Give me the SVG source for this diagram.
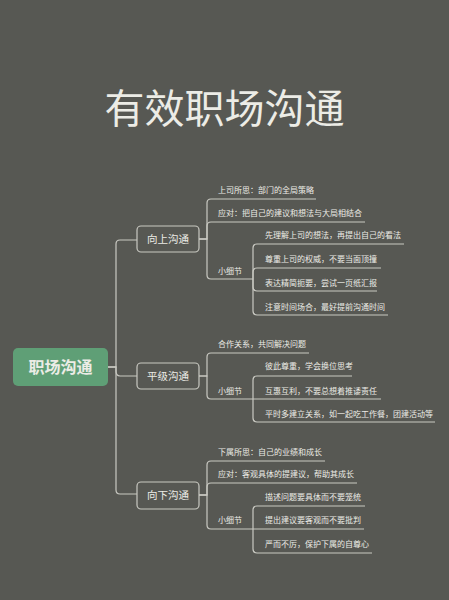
<svg xmlns="http://www.w3.org/2000/svg" width="449" height="600" viewBox="0 0 449 600">
<style>
text{font-family:"Noto Sans CJK SC","Noto Sans",sans-serif;fill:#ecece6}
.t{font-size:8px}
.n{font-size:10.5px;text-anchor:middle}
.c{fill:none;stroke:#c9c9c2;stroke-width:1.2}
.box{fill:#575853;stroke:#c9c9c2;stroke-width:1.2}
</style>
<rect width="449" height="600" fill="#575853"/>
<text x="224.5" y="123" font-size="40" text-anchor="middle" id="title">有效职场沟通</text>
<g id="connectors" class="c">
<path d="M108,367 H116 V244 Q116,240 120,240 H137"/>
<path d="M108,367 H116 V371 Q116,376 120,376 H137"/>
<path d="M108,367 H116 V490 Q116,494 120,494 H137"/>
<path d="M199,239 H207 V203 Q207,199 211,199 H316"/>
<path d="M199,239 H207 V226 Q207,222 211,222 H365"/>
<path d="M199,239 H207 V275 Q207,279 211,279 H253"/>
<path d="M253,279 V248 Q253,244 257,244 H404"/>
<path d="M253,279 V272 Q253,268 257,268 H381"/>
<path d="M253,279 V287 Q253,291 257,291 H377"/>
<path d="M253,279 V311 Q253,315 257,315 H388"/>
<path d="M199,376 H207 V357 Q207,353 211,353 H309"/>
<path d="M199,376 H207 V395 Q207,399 211,399 H253"/>
<path d="M253,399 V380 Q253,376 257,376 H352"/>
<path d="M253,399 H381"/>
<path d="M253,399 V418 Q253,422 257,422 H435"/>
<path d="M199,495 H207 V465 Q207,461 211,461 H325"/>
<path d="M199,495 H207 V487 Q207,483 211,483 H357"/>
<path d="M199,495 H207 V525 Q207,529 211,529 H253"/>
<path d="M253,529 V510 Q253,506 257,506 H365"/>
<path d="M253,529 H364"/>
<path d="M253,529 V549 Q253,553 257,553 H372"/>
</g>
<g id="root"><rect x="13" y="348" width="95" height="38" rx="5" fill="#5f9f76"/><text x="60.5" y="373" font-size="16" font-weight="bold" text-anchor="middle">职场沟通</text></g>
<g id="up"><rect class="box" x="137" y="226" width="62" height="26" rx="4"/><text class="n" x="168" y="243">向上沟通</text></g>
<g id="flat"><rect class="box" x="137" y="363" width="62" height="26" rx="4"/><text class="n" x="168" y="380">平级沟通</text></g>
<g id="down"><rect class="box" x="137" y="482" width="62" height="27" rx="4"/><text class="n" x="168" y="499">向下沟通</text></g>
<g id="up-items">
<text class="t" x="218" y="193">上司所思：部门的全局策略</text>
<text class="t" x="218" y="216">应对：把自己的建议和想法与大局相结合</text>
<text class="t" x="218" y="274">小细节</text>
<text class="t" x="265" y="238">先理解上司的想法，再提出自己的看法</text>
<text class="t" x="265" y="262">尊重上司的权威，不要当面顶撞</text>
<text class="t" x="265" y="286">表达精简扼要，尝试一页纸汇报</text>
<text class="t" x="265" y="310">注意时间场合，最好提前沟通时间</text>
</g>
<g id="flat-items">
<text class="t" x="218" y="347">合作关系，共同解决问题</text>
<text class="t" x="218" y="394">小细节</text>
<text class="t" x="265" y="369">彼此尊重，学会换位思考</text>
<text class="t" x="265" y="394">互惠互利，不要总想着推诿责任</text>
<text class="t" x="265" y="417">平时多建立关系，如一起吃工作餐，团建活动等</text>
</g>
<g id="down-items">
<text class="t" x="218" y="455">下属所思：自己的业绩和成长</text>
<text class="t" x="218" y="477">应对：客观具体的提建议，帮助其成长</text>
<text class="t" x="218" y="523">小细节</text>
<text class="t" x="265" y="500">描述问题要具体而不要笼统</text>
<text class="t" x="265" y="523">提出建议要客观而不要批判</text>
<text class="t" x="265" y="547">严而不厉，保护下属的自尊心</text>
</g>
</svg>
